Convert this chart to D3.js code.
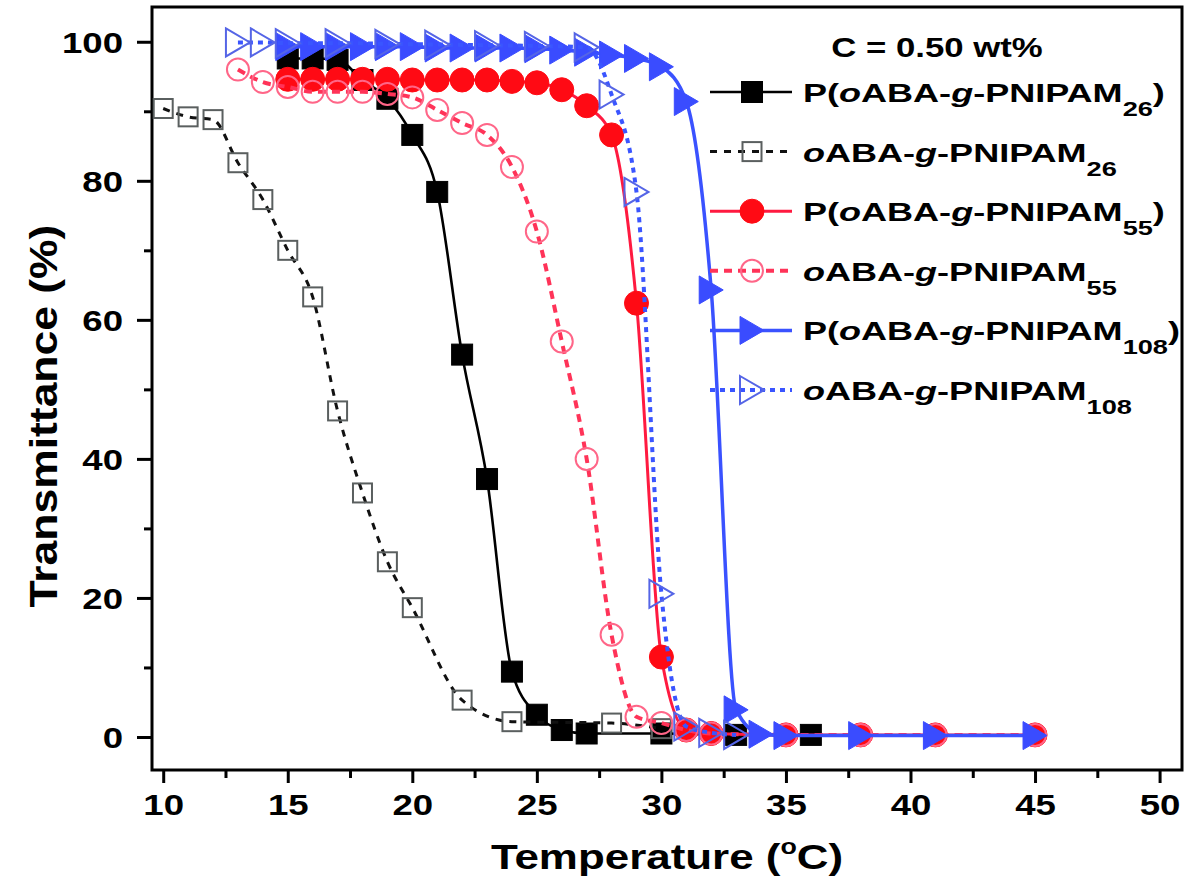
<!DOCTYPE html>
<html>
<head>
<meta charset="utf-8">
<script src="https://cdn.jsdelivr.net/npm/d3@7"></script>
<style>
body { margin: 0; background: #fff; }
svg text { font-family: "Liberation Sans", Arial, sans-serif; font-weight: bold; fill: #000; }
</style>
</head>
<body>
<svg width="1204" height="885"></svg>
<script>
// ---- data: temperature (oC) and transmittance (%) ----
var p26T = [15, 16, 17, 18, 19, 20, 21, 22, 23, 24, 25, 26, 27, 30, 33, 36];
var p26V = [97.6, 97.6, 97.4, 94.5, 91.8, 86.6, 78.4, 55, 37.1, 9.4, 3.2, 1, 0.5, 0.5, 0.3, 0.3];

var o26T = [10, 11, 12, 13, 14, 15, 16, 17, 18, 19, 20, 22, 24, 28, 30];
var o26V = [90.4, 89.2, 88.8, 82.6, 77.3, 70, 63.3, 46.9, 35.1, 25.2, 18.6, 5.3, 2.2, 2, 1.2];

var p55T = [15, 16, 17, 18, 19, 20, 21, 22, 23, 24, 25, 26, 27, 28, 29, 30, 31, 32, 35, 38, 41, 45];
var p55V = [94.6, 94.6, 94.6, 94.6, 94.6, 94.5, 94.5, 94.5, 94.5, 94.3, 94.1, 93.1, 90.8, 86.6, 62.4, 11.5, 1, 0.5, 0.3, 0.3, 0.3, 0.3];

var o55T = [13, 14, 15, 16, 17, 18, 19, 20, 21, 22, 23, 24, 25, 26, 27, 28, 29, 30, 31, 32, 35, 38, 41, 45];
var o55V = [96, 94.2, 93.5, 92.8, 92.8, 92.8, 92.5, 92, 90.2, 88.3, 86.6, 82, 72.7, 56.9, 40, 14.7, 2.9, 2, 1, 0.5, 0.3, 0.3, 0.3, 0.3];

var p108T = [15, 16, 17, 18, 19, 20, 21, 22, 23, 24, 25, 26, 27, 28, 29, 30, 31, 32, 33, 34, 35, 38, 41, 45];
var p108V = [99.3, 99.3, 99.3, 99.3, 99.3, 99.3, 99.1, 99.1, 99.1, 99.1, 99, 98.8, 98.5, 98.1, 97.6, 96.4, 91.4, 64.3, 3.9, 0.4, 0.2, 0.2, 0.2, 0.2];

var o108T = [13, 14, 15, 17, 19, 21, 23, 25, 27, 28, 29, 30, 31, 32, 33];
var o108V = [99.9, 99.9, 99.8, 99.8, 99.7, 99.6, 99.5, 99.4, 99.2, 92.4, 78.4, 20.6, 1.5, 0.6, 0.3];

var xTicks = [10, 15, 20, 25, 30, 35, 40, 45, 50];
var xMinor = [12.5, 17.5, 22.5, 27.5, 32.5, 37.5, 42.5, 47.5];
var yTicks = [0, 20, 40, 60, 80, 100];
var yMinor = [10, 30, 50, 70, 90];

var concLabel = 'C = 0.50 wt%';
var xTitle = 'Temperature (';
var yTitle = 'Transmittance (%)';

// ---- series styling ----
var series = [
  { T: p26T, V: p26V, pre: 'P(', sub: '26', post: ')', line: '#000', lw: 2.6, dash: null,
    sym: 'square', fill: '#000', stroke: '#000' },
  { T: o26T, V: o26V, pre: '', sub: '26', post: '', line: '#111', lw: 3, dash: '7,7',
    sym: 'square', fill: 'none', stroke: '#5a5f5f' },
  { T: p55T, V: p55V, pre: 'P(', sub: '55', post: ')', line: '#ff1a40', lw: 3, dash: null,
    sym: 'circle', fill: '#ff0a14', stroke: '#ff0a14' },
  { T: o55T, V: o55V, pre: '', sub: '55', post: '', line: '#ff3358', lw: 4, dash: '8,6',
    sym: 'circle', fill: 'none', stroke: '#ff6688' },
  { T: p108T, V: p108V, pre: 'P(', sub: '108', post: ')', line: '#3a52ff', lw: 3.5, dash: null,
    sym: 'tri', fill: '#3a4cff', stroke: '#3a4cff' },
  { T: o108T, V: o108V, pre: '', sub: '108', post: '', line: '#3a55ff', lw: 4, dash: '5,5',
    sym: 'tri', fill: 'none', stroke: '#5565e6' }
];

var SX = 1.22;   // wide bold face of the source figure
var SXL = 1.36;  // legend text is wider still
var svg = d3.select('svg');

var x = d3.scaleLinear().domain([9.55, 50.9]).range([152, 1182]);
var y = d3.scaleLinear().domain([-4.75, 105]).range([770, 7]);

// axes
var gx = svg.append('g').attr('transform', 'translate(0,770)')
  .call(d3.axisBottom(x).tickValues(xTicks).tickSize(13).tickPadding(11));
var gxm = svg.append('g').attr('transform', 'translate(0,770)')
  .call(d3.axisBottom(x).tickValues(xMinor).tickSize(8).tickFormat(''));
var gy = svg.append('g').attr('transform', 'translate(152,0)')
  .call(d3.axisLeft(y).tickValues(yTicks).tickSize(15));
var gym = svg.append('g').attr('transform', 'translate(152,0)')
  .call(d3.axisLeft(y).tickValues(yMinor).tickSize(8).tickFormat(''));

[gx, gxm, gy, gym].forEach(function(g) {
  g.select('.domain').remove();
  g.selectAll('line').attr('stroke', '#000').attr('stroke-width', 3);
});
gx.selectAll('text').attr('font-size', 30).attr('transform', 'scale(' + SX + ',1)');
gy.selectAll('text').attr('font-size', 30).attr('x', -29 / SX).attr('dy', '0.36em')
  .attr('transform', 'scale(' + SX + ',1)');

// frame
svg.append('rect').attr('x', 152).attr('y', 7).attr('width', 1030).attr('height', 763)
  .attr('fill', 'none').attr('stroke', '#000').attr('stroke-width', 3);

// markers
function drawSym(g, s, cx, cy) {
  if (s.sym === 'square') {
    var a = s.fill === 'none' ? 19 : 21;
    g.append('rect').attr('x', cx - a / 2).attr('y', cy - a / 2).attr('width', a).attr('height', a)
      .attr('fill', s.fill).attr('stroke', s.stroke).attr('stroke-width', s.fill === 'none' ? 2 : 1);
  } else if (s.sym === 'circle') {
    g.append('circle').attr('cx', cx).attr('cy', cy).attr('r', s.fill === 'none' ? 11 : 12)
      .attr('fill', s.fill).attr('stroke', s.stroke).attr('stroke-width', s.fill === 'none' ? 2 : 1);
  } else {
    var w = 24, h = 28;
    g.append('path')
      .attr('d', 'M' + (cx - w / 2) + ',' + (cy - h / 2) + 'L' + (cx + w / 2) + ',' + cy +
                 'L' + (cx - w / 2) + ',' + (cy + h / 2) + 'Z')
      .attr('fill', s.fill).attr('stroke', s.stroke).attr('stroke-width', s.fill === 'none' ? 2 : 1)
      .attr('stroke-linejoin', 'miter');
  }
}

var line = d3.line()
  .x(function(d) { return x(d[0]); })
  .y(function(d) { return y(d[1]); })
  .curve(d3.curveMonotoneX);

series.forEach(function(s) {
  var pts = s.T.map(function(t, i) { return [t, s.V[i]]; });
  var g = svg.append('g');
  g.append('path').attr('d', line(pts)).attr('fill', 'none')
    .attr('stroke', s.line).attr('stroke-width', s.lw)
    .attr('stroke-dasharray', s.dash);
  pts.forEach(function(p) { drawSym(g, s, x(p[0]), y(p[1])); });
});

// legend
svg.append('g').attr('transform', 'translate(937,57) scale(' + SX + ',1)')
  .append('text').attr('text-anchor', 'middle').attr('font-size', 28.5).text(concLabel);

series.forEach(function(s, i) {
  var cy = 92 + i * 59.6;
  var g = svg.append('g');
  g.append('line').attr('x1', 710).attr('x2', 792).attr('y1', cy).attr('y2', cy)
    .attr('stroke', s.line).attr('stroke-width', s.lw).attr('stroke-dasharray', s.dash);
  drawSym(g, s, 752, cy);
  var t = svg.append('g').attr('transform', 'translate(803,' + (cy + 10) + ') scale(' + SXL + ',1)')
    .append('text').attr('font-size', 26.5);
  t.append('tspan').text(s.pre);
  t.append('tspan').attr('font-style', 'italic').text('o');
  t.append('tspan').text('ABA-');
  t.append('tspan').attr('font-style', 'italic').text('g');
  t.append('tspan').text('-PNIPAM');
  t.append('tspan').attr('font-size', 20).attr('dy', 14).text(s.sub);
  if (s.post) t.append('tspan').attr('dy', -14).text(s.post);
});

// axis titles
var xt = svg.append('g').attr('transform', 'translate(667,869) scale(' + SX + ',1)')
  .append('text').attr('text-anchor', 'middle').attr('font-size', 36);
xt.append('tspan').text(xTitle);
xt.append('tspan').attr('font-size', 22).attr('dy', -15).text('o');
xt.append('tspan').attr('dy', 15).text('C)');

svg.append('g').attr('transform', 'translate(57,416) rotate(-90) scale(1.17,1)')
  .append('text').attr('text-anchor', 'middle').attr('font-size', 38).text(yTitle);
</script>
</body>
</html>
